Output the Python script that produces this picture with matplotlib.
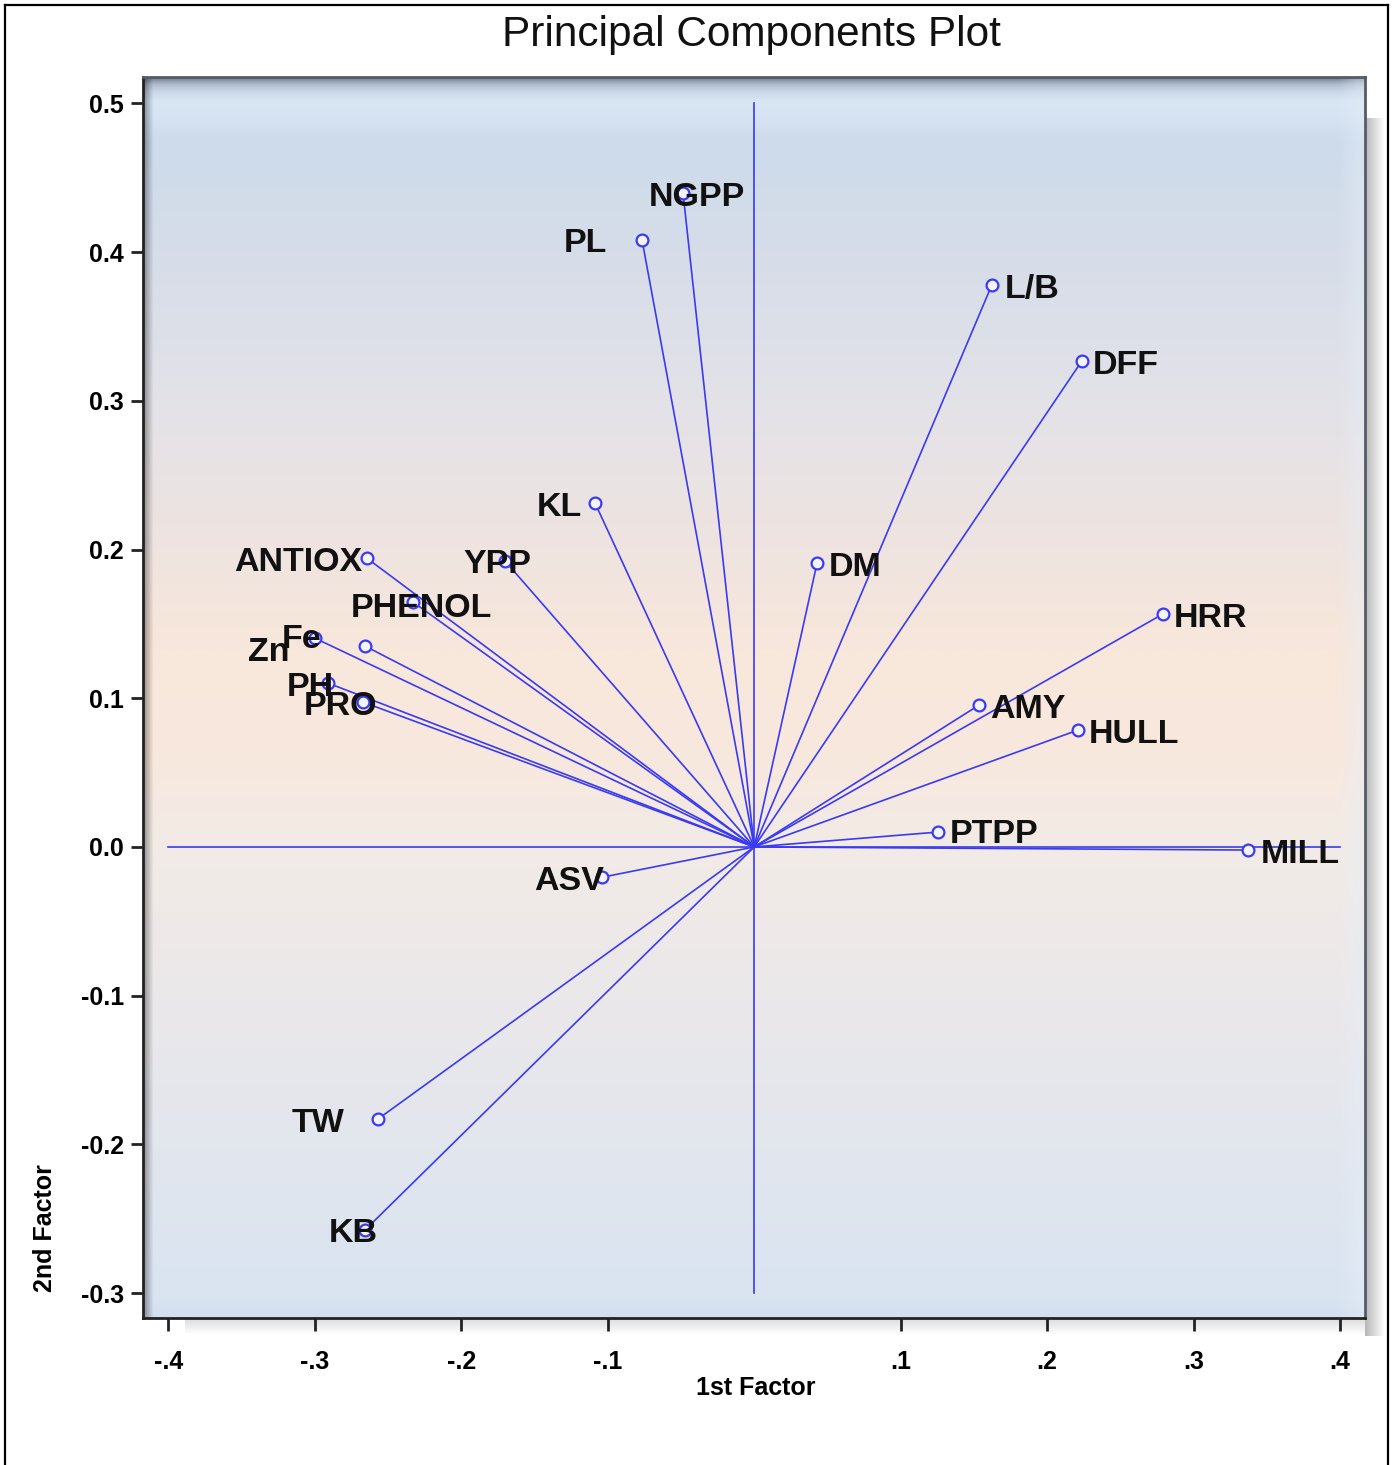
import numpy as np
import matplotlib
matplotlib.use("Agg")
import matplotlib.pyplot as plt
from matplotlib.patches import Rectangle
from matplotlib.lines import Line2D
from matplotlib.colors import to_rgb

# ---------------- data ----------------
variables = ["NGPP", "PL", "L/B", "DFF", "KL", "DM", "ANTIOX", "YPP", "PHENOL",
             "HRR", "Fe", "Zn", "PH", "PRO", "AMY", "HULL", "PTPP", "MILL",
             "ASV", "TW", "KB"]
factor1 = [-0.0486, -0.0766, 0.1622, 0.2236, -0.1087, 0.0429, -0.2646, -0.1702,
           -0.2330, 0.2789, -0.2999, -0.2657, -0.2910, -0.2671, 0.1535, 0.2211,
           0.1255, 0.3371, -0.1039, -0.2569, -0.2657]
factor2 = [0.4397, 0.4082, 0.3779, 0.3267, 0.2313, 0.1909, 0.1943, 0.1924,
           0.1647, 0.1566, 0.1404, 0.1351, 0.1102, 0.0974, 0.0954, 0.0786,
           0.0100, -0.0021, -0.0204, -0.1830, -0.2576]
xticks = [-0.4, -0.3, -0.2, -0.1, 0.1, 0.2, 0.3, 0.4]
xticklabels = ["-.4", "-.3", "-.2", "-.1", ".1", ".2", ".3", ".4"]
yticks = [0.5, 0.4, 0.3, 0.2, 0.1, 0.0, -0.1, -0.2, -0.3]
yticklabels = ["0.5", "0.4", "0.3", "0.2", "0.1", "0.0", "-0.1", "-0.2", "-0.3"]

# label offsets (screen pixels, x right / y down) relative to the marker
label_offsets = [(14, 0), (-57, 0), (40, 0), (44, 0), (-36, 0), (38, 0), (-68, 0),
                 (-8, 0), (8, 2), (48, 0), (-13, -3), (-96, 2), (-18, 0), (-23, 0),
                 (49, 0), (56, 0), (56, -2), (52, 0), (-33, 0), (-60, 0), (-12, 0)]

# ---------------- figure ----------------
W, H = 1394, 1465
fig = plt.figure(figsize=(W / 100, H / 100), dpi=100)
fig.patch.set_facecolor("white")
FONT = "Liberation Sans"

def fx(px):
    return px / W

def fy(py):
    return 1 - py / H

# outer border (left, top, right)
fig.add_artist(Line2D([fx(5), fx(5)], [0, fy(5)], color="black", lw=1.6))
fig.add_artist(Line2D([fx(5), fx(1388)], [fy(5), fy(5)], color="black", lw=1.6))
fig.add_artist(Line2D([fx(1388), fx(1388)], [fy(5), 0], color="black", lw=1.6))

# drop shadow of the plot frame
for i in range(20):
    g = 0.72 + 0.28 * (i / 19)
    fig.add_artist(Rectangle((fx(1365 + i), fy(1336)), fx(1), fy(118) - fy(1336),
                             facecolor=(g, g, g), edgecolor="none", zorder=0))
for i in range(16):
    g = 0.86 + 0.13 * (i / 15)
    fig.add_artist(Rectangle((fx(185), fy(1319 + i)), fx(1200) - fx(20), 1 / H,
                             facecolor=(g, g, g), edgecolor="none", zorder=0))

L, R, T, B = 143.3, 1365, 76.7, 1318
ax = fig.add_axes([fx(L), fy(B), fx(R) - fx(L), fy(T) - fy(B)])
xmin, xmax = -0.4171, 0.4170
ymin, ymax = -0.3168, 0.5180
ax.set_xlim(xmin, xmax)
ax.set_ylim(ymin, ymax)

# background gradient (vertical), in screen-pixel stops
stops_px = [77, 84, 92, 102, 118, 140, 250, 400, 550, 650, 750, 846, 1000, 1150, 1300, 1318]
stops_col = ["#6f7886", "#aebccd", "#cbd9ea", "#d9e6f4", "#d6e3f2", "#cddbeb",
             "#d6dde9", "#e3e2e8", "#efe4e0", "#f8e7db", "#f8e8dd", "#f2ebe6",
             "#ebe8ea", "#e2e6ee", "#d9e4f1", "#d4dfee"]
nrow, ncol = 700, 400
rows_px = np.linspace(T, B, nrow)
cols = np.array([to_rgb(c) for c in stops_col])
img = np.zeros((nrow, ncol, 3))
for k in range(3):
    img[:, :, k] = np.interp(rows_px, stops_px, cols[:, k])[:, None]
cols_px = np.linspace(L, R, ncol)
left_dark = np.clip(1 - (cols_px - L) / 9.0, 0, 1)[None, :, None]
img = img * (1 - 0.35 * left_dark)
right_light = np.clip((cols_px - 1340) / 20.0, 0, 1)[None, :, None]
img = img * (1 - 0.4 * right_light) + np.array(to_rgb("#e6eef8"))[None, None, :] * 0.4 * right_light
ax.imshow(img, extent=(0, 1, 0, 1), transform=ax.transAxes, aspect="auto", zorder=0,
          interpolation="bilinear")

# reference axes lines
blue = "#3a3af2"
ax.plot([-0.4, 0.4], [0, 0], color=blue, lw=1.2, zorder=2)
ax.plot([0, 0], [-0.3, 0.5], color=blue, lw=1.2, zorder=2)

# vectors
for x, y in zip(factor1, factor2):
    ax.plot([0, x], [0, y], color=blue, lw=1.2, zorder=3)
ax.plot(factor1, factor2, linestyle="none", marker="o", markersize=8.5,
        markerfacecolor="#f4f4ff", markeredgecolor=blue, markeredgewidth=1.6, zorder=4)

for name, x, y, (dx, dy) in zip(variables, factor1, factor2, label_offsets):
    ax.annotate(name, (x, y), xytext=(dx, -dy - 12.5), textcoords="offset pixels",
                ha="center", va="baseline", fontsize=24.5, fontweight="bold",
                family=FONT, color="#111111", zorder=5)

# axes styling
for s in ax.spines.values():
    s.set_color("#222222")
    s.set_linewidth(2)
ax.spines["top"].set_color("#555c66")
ax.spines["right"].set_color("#555c66")
ax.set_xticks(xticks)
ax.set_xticklabels(xticklabels)
ax.set_yticks(yticks)
ax.set_yticklabels(yticklabels)
ax.tick_params(direction="out", length=9, width=2, color="#222222",
               labelsize=18, pad=5)
ax.tick_params(axis="x", pad=14)
for lab in ax.get_xticklabels() + ax.get_yticklabels():
    lab.set_fontweight("bold")
    lab.set_family(FONT)

fig.text(fx(756), fy(1388), "1st Factor", ha="center", va="center", fontsize=18,
         fontweight="bold", family=FONT)
fig.text(fx(45), fy(1228), "2nd Factor", ha="center", va="center", rotation=90,
         fontsize=18, fontweight="bold", family=FONT)
fig.text(fx(751), fy(35), "Principal Components Plot", ha="center", va="center",
         fontsize=30.5, family=FONT, color="#111111")

fig.savefig("out.png", dpi=100)
